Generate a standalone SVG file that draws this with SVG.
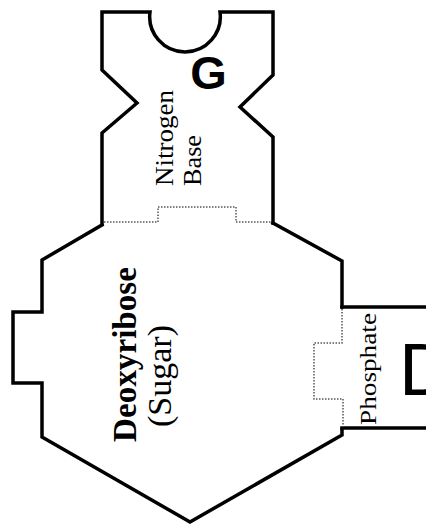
<svg xmlns="http://www.w3.org/2000/svg" width="426" height="525" viewBox="0 0 426 525">
  <style>
    .outline { fill: none; stroke: #000; stroke-width: 3.5; stroke-linejoin: miter; stroke-linecap: square; }
    .bond { fill: none; stroke: #555; stroke-width: 1.5; stroke-dasharray: 1.5 1.5; }
    .serif { font-family: "Liberation Serif", "Times New Roman", serif; fill: #000; }
    .sans { font-family: "Liberation Sans", Arial, sans-serif; fill: #000; }
  </style>
  <rect width="426" height="525" fill="#fff"/>

  <!-- Nitrogen base (guanine) -->
  <g id="base">
    <path class="outline" d="M102,224 V133 L137,103 L102,70 V12 H150 A35.3,35.3 0 1 0 220,12 H273 V75 L240,107 L273,137 V223"/>
    <text class="sans" x="208.5" y="89" font-size="47" font-weight="bold" text-anchor="middle">G</text>
    <text class="serif" transform="translate(173,186) rotate(-90)" font-size="26" textLength="96" lengthAdjust="spacingAndGlyphs">Nitrogen</text>
    <text class="serif" transform="translate(201,186) rotate(-90)" font-size="26" textLength="51" lengthAdjust="spacingAndGlyphs">Base</text>
  </g>

  <!-- Deoxyribose sugar -->
  <g id="sugar">
    <path class="outline" d="M102,225 L42,260 V312 H13 V383 H42 V437 L190,522 L342,435 V429"/>
    <path class="outline" d="M273,223 L342,261 V307"/>
    <text class="serif" transform="translate(136,442) rotate(-90)" font-size="34" font-weight="bold" textLength="175" lengthAdjust="spacingAndGlyphs">Deoxyribose</text>
    <text class="serif" transform="translate(171,427) rotate(-90)" font-size="34" textLength="102" lengthAdjust="spacingAndGlyphs">(Sugar)</text>
  </g>

  <!-- Phosphate -->
  <g id="phosphate">
    <path class="outline" d="M342,307 H428"/>
    <path class="outline" d="M342,428 H428"/>
    <text class="serif" transform="translate(376,425) rotate(-90)" font-size="24" textLength="112" lengthAdjust="spacingAndGlyphs">Phosphate</text>
    <text class="sans" x="399" y="395" font-size="74">D</text>
  </g>

  <!-- Bonds between the parts -->
  <g id="connectors">
    <path class="bond" d="M104,222 H158 V207 H236 V222 H272"/>
    <path class="bond" d="M342,309 V343 H314 V399 H343 V427"/>
  </g>
</svg>
